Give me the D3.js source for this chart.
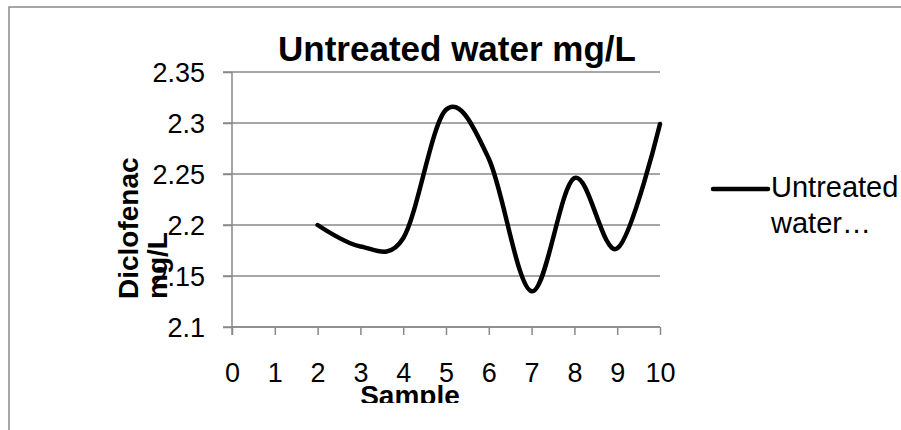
<!DOCTYPE html>
<html>
<head>
<meta charset="utf-8">
<script src="https://cdn.jsdelivr.net/npm/d3@7"></script>
<style>
  body { margin: 0; background: #fff; }
  text { font-family: "Liberation Sans", Arial, sans-serif; fill: #000; }
</style>
</head>
<body>
<svg width="901" height="430"></svg>
<script>
// data
var samples = [2, 3, 4, 5, 6, 7, 8, 9, 10];
var untreated = [2.2, 2.179, 2.187, 2.313, 2.265, 2.135, 2.246, 2.177, 2.299];
var xTicks = [0, 1, 2, 3, 4, 5, 6, 7, 8, 9, 10];
var yTicks = [2.1, 2.15, 2.2, 2.25, 2.3, 2.35];

var svg = d3.select("svg");
var gray = "#898989";

// outer chart border (runs off the bottom/right edge)
svg.append("rect").attr("x", 9).attr("y", 7).attr("width", 1000).attr("height", 1000)
  .attr("fill", "none").attr("stroke", gray).attr("stroke-width", 1.5);

var x = d3.scaleLinear().domain([0, 10]).range([232, 660]);
var y = d3.scaleLinear().domain([2.1, 2.35]).range([327, 72]);

// gridlines
svg.append("g").selectAll("line").data(yTicks).enter().append("line")
  .attr("x1", 223).attr("x2", 660)
  .attr("y1", function(d){ return y(d); }).attr("y2", function(d){ return y(d); })
  .attr("stroke", gray).attr("stroke-width", 1.5);

// y axis
var yAxis = svg.append("g").attr("transform", "translate(232,0)")
  .call(d3.axisLeft(y).tickValues(yTicks).tickSize(9).tickPadding(18)
    .tickFormat(function(d){ return String(+d.toFixed(2)); }));
yAxis.select(".domain").remove();
yAxis.append("line").attr("x1", 0).attr("x2", 0).attr("y1", 72).attr("y2", 335)
  .attr("stroke", gray).attr("stroke-width", 1.5);
yAxis.selectAll(".tick line").attr("stroke", gray).attr("stroke-width", 1.5);
yAxis.selectAll(".tick text").attr("font-size", 27).attr("dy", "0.35em")
  .style("font-family", "Liberation Sans, Arial, sans-serif").attr("fill", "#000");

// x axis
var xAxis = svg.append("g").attr("transform", "translate(0,327)")
  .call(d3.axisBottom(x).tickValues(xTicks).tickSize(8).tickPadding(33));
xAxis.select(".domain").attr("stroke", gray).attr("stroke-width", 1.5)
  .attr("d", "M232,0H660");
xAxis.selectAll(".tick line").attr("stroke", gray).attr("stroke-width", 1.5);
xAxis.selectAll(".tick text").attr("font-size", 27).attr("dy", "0.5em")
  .style("font-family", "Liberation Sans, Arial, sans-serif").attr("fill", "#000");

// the series
var line = d3.line()
  .x(function(d, i){ return x(samples[i]); })
  .y(function(d){ return y(d); })
  .curve(d3.curveCatmullRom.alpha(0));

svg.append("path").datum(untreated).attr("d", line)
  .attr("fill", "none").attr("stroke", "#000").attr("stroke-width", 4.5)
  .attr("stroke-linejoin", "round").attr("stroke-linecap", "round");

// title
svg.append("text").attr("x", 457).attr("y", 61).attr("text-anchor", "middle")
  .attr("font-size", 35).attr("font-weight", "bold").text("Untreated water mg/L");

// y axis title, two lines
svg.append("text").attr("transform", "translate(138,299) rotate(-90)")
  .attr("font-size", 28).attr("font-weight", "bold").text("Diclofenac");
svg.append("text").attr("transform", "translate(167,299) rotate(-90)")
  .attr("font-size", 28).attr("font-weight", "bold").text("mg/L");

// x axis title, clipped at the bottom like the original
svg.append("clipPath").attr("id", "xclip").append("rect")
  .attr("x", 0).attr("y", 0).attr("width", 901).attr("height", 403);
svg.append("text").attr("x", 410).attr("y", 405).attr("text-anchor", "middle")
  .attr("clip-path", "url(#xclip)")
  .attr("font-size", 28).attr("font-weight", "bold").text("Sample");

// legend
svg.append("line").attr("x1", 713).attr("x2", 768).attr("y1", 189).attr("y2", 189)
  .attr("stroke", "#000").attr("stroke-width", 4.5).attr("stroke-linecap", "round");
svg.append("text").attr("x", 771).attr("y", 197).attr("font-size", 29).text("Untreated");
svg.append("text").attr("x", 771).attr("y", 233).attr("font-size", 29).text("water\u2026");
</script>
</body>
</html>
